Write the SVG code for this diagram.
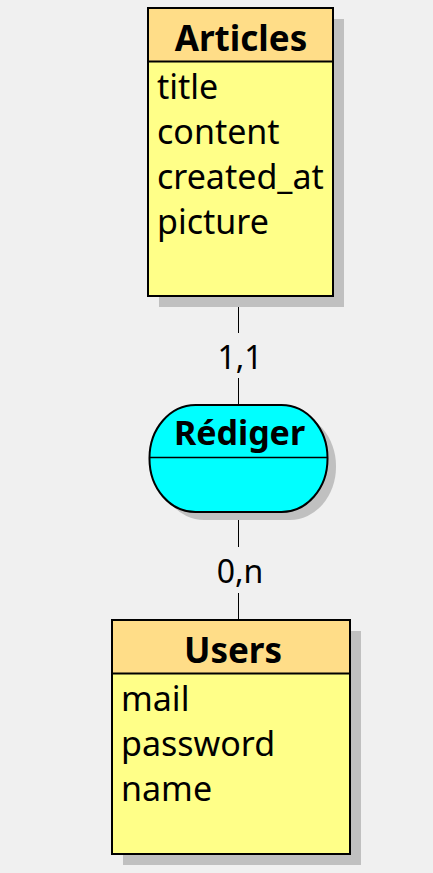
<svg xmlns="http://www.w3.org/2000/svg" width="433" height="873" viewBox="0 0 433 873">
<style>
.bg{fill:#F0F0F0}
.sh{fill:#C0C0C0}
.hd{fill:#FFDD88;stroke:#000;stroke-width:2}
.bd{fill:#FFFF88;stroke:#000;stroke-width:2}
.rel{fill:#00FFFF;stroke:#000;stroke-width:2}
.ln{stroke:#000;stroke-width:1;fill:none}
.t{font-family:"Noto Sans","Open Sans",sans-serif;fill:#000}
.title{font-weight:bold;font-size:35px;text-anchor:middle}
.attr{font-size:34px}
.card{font-size:32px;text-anchor:middle}
</style>
<rect class="bg" x="0" y="0" width="433" height="873"/>
<g id="connectors">
<line class="ln" x1="238.5" y1="296" x2="238.5" y2="333"/>
<line class="ln" x1="238.5" y1="378" x2="238.5" y2="405"/>
<line class="ln" x1="238.5" y1="512" x2="238.5" y2="547"/>
<line class="ln" x1="238.5" y1="593" x2="238.5" y2="620"/>
<text class="t card" x="240" y="369">1,1</text>
<text class="t card" x="240" y="583">0,n</text>
</g>
<g id="articles">
<rect class="sh" x="159" y="19" width="185" height="288"/>
<rect class="bd" x="148" y="8" width="185" height="288"/>
<rect class="hd" x="148" y="8" width="185" height="53.5"/>
<text class="t title" x="241" y="51">Articles</text>
<text class="t attr" x="157" y="99">title</text>
<text class="t attr" x="157" y="144">content</text>
<text class="t attr" x="157" y="189">created_at</text>
<text class="t attr" x="157" y="234">picture</text>
</g>
<g id="rediger">
<rect class="sh" x="158" y="413" width="178" height="107" rx="46" ry="53"/>
<rect class="rel" x="149.5" y="405" width="178" height="107" rx="46" ry="53"/>
<line class="ln" x1="149.5" y1="457.5" x2="327.5" y2="457.5" style="stroke-width:1.5"/>
<text class="t title" x="239.5" y="445" style="font-size:34px">Rédiger</text>
</g>
<g id="users">
<rect class="sh" x="123" y="631" width="238" height="234"/>
<rect class="bd" x="112" y="620" width="238" height="234"/>
<rect class="hd" x="112" y="620" width="238" height="53.5"/>
<text class="t title" x="233" y="663">Users</text>
<text class="t attr" x="121" y="711">mail</text>
<text class="t attr" x="121" y="756">password</text>
<text class="t attr" x="121" y="801">name</text>
</g>
</svg>
